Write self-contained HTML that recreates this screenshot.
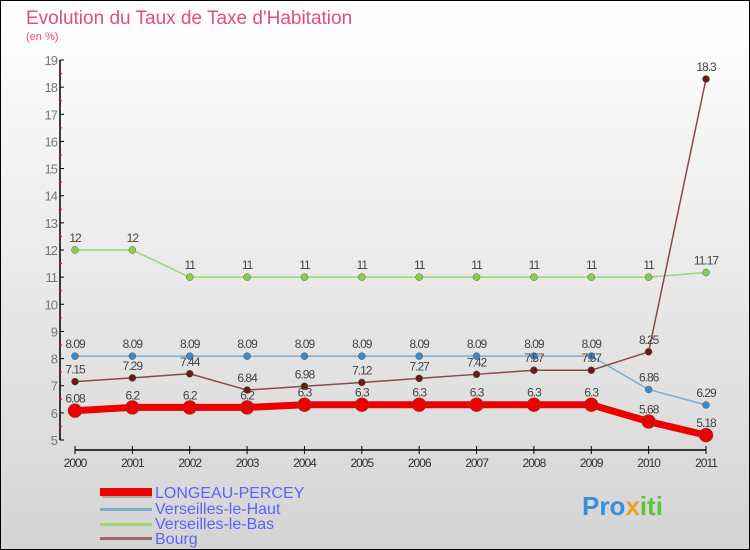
<!DOCTYPE html>
<html><head><meta charset="utf-8"><style>
body{margin:0;width:750px;height:550px;overflow:hidden;font-family:"Liberation Sans",sans-serif}
svg{display:block}
</style></head><body>
<svg width="750" height="550">
<defs><linearGradient id="bg" x1="0" y1="0" x2="0" y2="1"><stop offset="0" stop-color="#ffffff"/><stop offset="1" stop-color="#d4d4d4"/></linearGradient></defs>
<rect x="0.5" y="0.5" width="749" height="549" fill="url(#bg)" stroke="#000"/>
<text x="26" y="24" font-size="19" fill="#e0507a">Evolution du Taux de Taxe d'Habitation</text>
<text x="26" y="40" font-size="11" fill="#e0507a">(en %)</text>
<g id="axes"></g><g id="plot"></g>
<g>
<rect x="102" y="490" width="50" height="8" fill="#777" opacity=".5"/><rect x="100" y="488" width="52" height="8" fill="#ee0000"/>
<rect x="100" y="508" width="52" height="3" fill="#7aaed0"/><rect x="100" y="523" width="52" height="3" fill="#9ad870"/><rect x="100" y="537" width="52" height="3" fill="#9a6b6b"/>
<text x="155" y="498" font-size="16" fill="#5b63ff">LONGEAU-PERCEY</text>
<text x="155" y="514" font-size="16" fill="#5b63ff">Verseilles-le-Haut</text>
<text x="155" y="529" font-size="16" fill="#5b63ff">Verseilles-le-Bas</text>
<text x="155" y="544" font-size="16" fill="#5b63ff">Bourg</text>
</g>
<text x="582" y="515" font-size="26" font-weight="bold" fill="#3a8fd8">Pro<tspan fill="#f0a020">x</tspan><tspan fill="#60c040">iti</tspan></text>
</svg>
<script>
const years=[2000,2001,2002,2003,2004,2005,2006,2007,2008,2009,2010,2011];
const longeau=[6.08,6.2,6.2,6.2,6.3,6.3,6.3,6.3,6.3,6.3,5.68,5.18];
const haut=[8.09,8.09,8.09,8.09,8.09,8.09,8.09,8.09,8.09,8.09,6.86,6.29];
const bas=[12,12,11,11,11,11,11,11,11,11,11,11.17];
const bourg=[7.15,7.29,7.44,6.84,6.98,7.12,7.27,7.42,7.57,7.57,8.25,18.3];
const yTicks=[5,6,7,8,9,10,11,12,13,14,15,16,17,18,19];
const NS="http://www.w3.org/2000/svg";
const x=i=>75+i*(706-75)/(years.length-1);
const y=v=>440-(v-5)*(380/14);
function el(t,a,p){const e=document.createElementNS(NS,t);for(const k in a)e.setAttribute(k,a[k]);p.appendChild(e);return e;}
const ax=document.getElementById('axes'),pl=document.getElementById('plot');
let l=el('line',{x1:60,y1:y(19),x2:60,y2:y(5),stroke:'#000','stroke-width':1.5},ax);


l=el('line',{x1:x(0),y1:450,x2:x(11),y2:450,stroke:'#000','stroke-width':1.5},ax);


yTicks.forEach(v=>{el('line',{x1:60,y1:y(v),x2:64,y2:y(v),stroke:'#000'},ax);
if(v<19)el('line',{x1:59,y1:y(v+0.5),x2:62,y2:y(v+0.5),stroke:'red'},ax);
const t=el('text',{x:57,y:y(v)+5,'font-size':13,fill:'#777','text-anchor':'end','letter-spacing':'-1'},ax);t.textContent=v;

});
years.forEach((yr,i)=>{el('line',{x1:x(i),y1:446,x2:x(i),y2:454,stroke:'#000'},ax);
const t=el('text',{x:x(i),y:467,'font-size':12,fill:'#333','text-anchor':'middle','letter-spacing':'-1'},ax);t.textContent=yr;

});
function series(data,color,dot,w,r,name){
const g=el('g',{},pl);


el('polyline',{points:data.map((v,i)=>x(i)+','+y(v)).join(' '),fill:'none',stroke:color,'stroke-width':w,'stroke-linejoin':'round'},g);
data.forEach((v,i)=>{const c=el('circle',{cx:x(i),cy:y(v),r:r,fill:dot,stroke:'#555','stroke-width':0.5},g);


const t=el('text',{x:x(i),y:y(v)-8,'font-size':12,fill:'#444','text-anchor':'middle','letter-spacing':'-1'},g);t.textContent=v;});
}
series(bas,'#9ad870','#8ad040',1.5,3.5,'series-bas');
series(haut,'#7aaed0','#3a8ad0',1.5,3.5,'series-haut');
series(bourg,'#8b4a4a','#6b1a1a',1.5,3.5,'series-bourg');
series(longeau,'#ee0000','#ee0000',7,7,'series-longeau');
</script>
</body></html>
